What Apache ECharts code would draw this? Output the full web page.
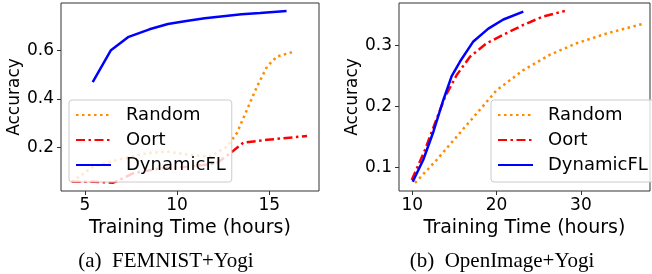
<!DOCTYPE html>
<html>
<head>
<meta charset="utf-8">
<script src="https://cdn.jsdelivr.net/npm/echarts@6/dist/echarts.min.js"></script>
<style>html,body{margin:0;padding:0;background:#fff}#c{width:652px;height:274px}</style>
</head>
<body>
<div id="c"></div>
<script>
// (a) FEMNIST+Yogi
const femRandom = [[4.28,0.060],[5.45,0.122],[6.72,0.149],[8.35,0.177],[9.44,0.184],[10.71,0.170],[11.79,0.163],[12.70,0.204],[13.24,0.259],[13.79,0.355],[14.33,0.450],[14.88,0.533],[15.42,0.574],[16.23,0.592]];
const femOort = [[4.28,0.060],[5.45,0.060],[6.54,0.056],[7.63,0.095],[9.08,0.115],[10.71,0.122],[12.16,0.136],[12.88,0.177],[13.60,0.221],[14.88,0.232],[17.05,0.248]];
const femDyn = [[5.42,0.469],[6.41,0.600],[7.37,0.655],[8.50,0.686],[9.50,0.708],[10.50,0.720],[11.50,0.731],[12.50,0.740],[13.50,0.748],[14.50,0.753],[15.94,0.761]];
// (b) OpenImage+Yogi
const oiRandom = [[10.32,0.075],[12.90,0.113],[15.27,0.151],[17.64,0.189],[20.00,0.227],[23.17,0.260],[26.30,0.285],[29.50,0.304],[33.06,0.320],[37.40,0.336]];
const oiOort = [[9.93,0.080],[11.50,0.129],[12.69,0.173],[13.88,0.216],[15.27,0.252],[16.84,0.282],[18.82,0.304],[20.80,0.318],[23.17,0.334],[25.54,0.348],[28.10,0.357]];
const oiDyn = [[10.05,0.077],[11.30,0.113],[12.50,0.159],[13.68,0.211],[14.67,0.250],[15.66,0.274],[17.24,0.307],[19.02,0.328],[20.80,0.343],[23.17,0.356]];
const seriesNames = ['Random','Oort','DynamicFL'];
const femXTicks = [5,10,15];
const femYTicks = [0.2,0.4,0.6];
const oiXTicks = [10,20,30];
const oiYTicks = [0.1,0.2,0.3];
const xTitle = 'Training Time (hours)';
const yTitle = 'Accuracy';
const captions = ['(a)  FEMNIST+Yogi','(b)  OpenImage+Yogi'];

const FONT = 'DejaVu Sans';
const styles = [
  {color:'#ff8c00', width:2.5, type:[2.5,3.5]},
  {color:'#ff0000', width:2.5, type:[9,3.5,2.5,3.5]},
  {color:'#0000ff', width:2.5, type:'solid'}
];
function xAx(idx, min, max, ticks){
  return {type:'value', gridIndex:idx, min:min, max:max,
    name:xTitle, nameLocation:'middle', nameGap:22,
    nameTextStyle:{fontFamily:FONT,fontSize:19,color:'#000'},
    axisLine:{show:false}, splitLine:{show:false},
    axisTick:{show:true, length:4, lineStyle:{color:'#333'}, customValues:ticks},
    axisLabel:{fontFamily:FONT,fontSize:17,color:'#000',margin:6, customValues:ticks}};
}
function yAx(idx, min, max, ticks){
  return {type:'value', gridIndex:idx, min:min, max:max,
    name:yTitle, nameLocation:'middle', nameGap:37, nameRotate:90,
    nameTextStyle:{fontFamily:FONT,fontSize:17,color:'#000'},
    axisLine:{show:false}, splitLine:{show:false},
    axisTick:{show:true, length:4, lineStyle:{color:'#333'}, customValues:ticks},
    axisLabel:{fontFamily:FONT,fontSize:17,color:'#000',margin:7, customValues:ticks,
      formatter:v=>v.toFixed(1)}};
}
function mk(name, data, idx, k){
  return {type:'line', name:name, data:data, xAxisIndex:idx, yAxisIndex:idx,
    symbol:'none', showSymbol:false, smooth:false, animation:false,
    lineStyle:styles[k], itemStyle:{color:styles[k].color}};
}
function legend(left, top){
  return {orient:'vertical', left:left, top:top, padding:[6,6,8,6], itemGap:7,
    itemWidth:35, itemHeight:14, backgroundColor:'rgba(255,255,255,0.8)',
    borderColor:'#ccc', borderWidth:1, borderRadius:3,
    itemStyle:{opacity:0},
    textStyle:{fontFamily:FONT,fontSize:18,lineHeight:18,color:'#000',padding:[0,0,0,10]},
    data:seriesNames.map(n=>({name:n})), selectedMode:false};
}
const chart = echarts.init(document.getElementById('c'), null, {renderer:'canvas'});
chart.setOption({
  animation:false,
  backgroundColor:'#fff',
  grid:[
    {left:61, top:3, width:258, height:188, show:true, borderColor:'#333', borderWidth:1, backgroundColor:'transparent'},
    {left:399, top:3, width:251, height:188, show:true, borderColor:'#333', borderWidth:1, backgroundColor:'transparent'}
  ],
  xAxis:[xAx(0,3.7,17.7,femXTicks), xAx(1,8.42,38.2,oiXTicks)],
  yAxis:[yAx(0,0.022,0.794,femYTicks), yAx(1,0.0618,0.370,oiYTicks)],
  legend:[legend(69,100), legend(491,100)],
  title:[
    {text:captions[0], left:161, top:246, textAlign:'center', textStyle:{fontFamily:'Liberation Serif',fontSize:21,fontWeight:'normal',color:'#000'}},
    {text:captions[1], left:497, top:246, textAlign:'center', textStyle:{fontFamily:'Liberation Serif',fontSize:21,fontWeight:'normal',color:'#000'}}
  ],
  series:[
    mk(seriesNames[0], femRandom, 0, 0),
    mk(seriesNames[1], femOort, 0, 1),
    mk(seriesNames[2], femDyn, 0, 2),
    mk(seriesNames[0], oiRandom, 1, 0),
    mk(seriesNames[1], oiOort, 1, 1),
    mk(seriesNames[2], oiDyn, 1, 2)
  ]
});
</script>
</body>
</html>
